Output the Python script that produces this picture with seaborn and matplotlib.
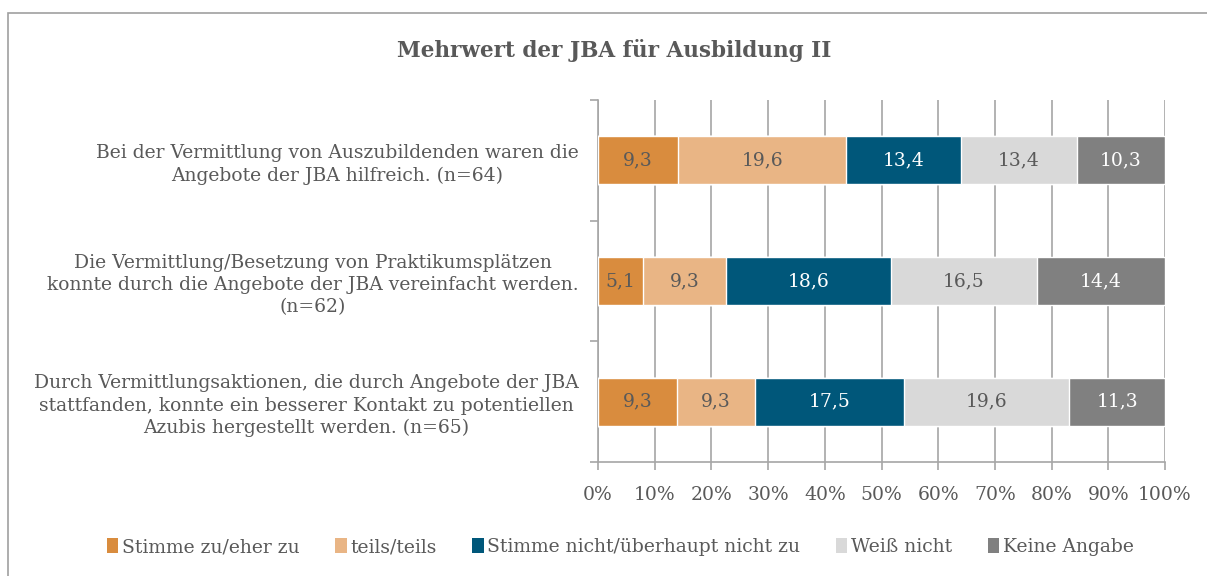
import numpy as np
import pandas as pd
import matplotlib
matplotlib.use('Agg')
import matplotlib.pyplot as plt
import seaborn as sns
from matplotlib.patches import Patch, Rectangle

# Werte aus der Grafik (Anteile je Antwortkategorie)
fragen = [
    'Bei der Vermittlung von Auszubildenden waren die\nAngebote der JBA hilfreich. (n=64)',
    'Die Vermittlung/Besetzung von Praktikumsplätzen\nkonnte durch die Angebote der JBA vereinfacht werden.\n(n=62)',
    'Durch Vermittlungsaktionen, die durch Angebote der JBA\nstattfanden, konnte ein besserer Kontakt zu potentiellen\nAzubis hergestellt werden. (n=65)',
]
kategorien = ['Stimme zu/eher zu', 'teils/teils', 'Stimme nicht/überhaupt nicht zu', 'Weiß nicht', 'Keine Angabe']
stimme_zu = [9.3, 5.1, 9.3]
teils = [19.6, 9.3, 9.3]
stimme_nicht = [13.4, 18.6, 17.5]
weiss_nicht = [13.4, 16.5, 19.6]
keine_angabe = [10.3, 14.4, 11.3]
tick_labels = ['0%', '10%', '20%', '30%', '40%', '50%', '60%', '70%', '80%', '90%', '100%']

farben = ['#D98C3E', '#E9B585', '#00577A', '#D9D9D9', '#808080']
textfarben = ['#595959', '#595959', 'white', '#595959', 'white']

df = pd.DataFrame({'frage': fragen, kategorien[0]: stimme_zu, kategorien[1]: teils,
                   kategorien[2]: stimme_nicht, kategorien[3]: weiss_nicht, kategorien[4]: keine_angabe})
werte = df[kategorien]
anteile = werte.div(werte.sum(axis=1), axis=0) * 100  # auf 100% normiert
kumuliert = anteile.cumsum(axis=1)

sns.set_style('white')
plt.rcParams['font.family'] = ['DejaVu Serif']
grau = '#595959'
linie = '#a6a6a6'
fs = 13.5

fig = plt.figure(figsize=(12.07, 5.76), dpi=100)
ax = fig.add_axes([598 / 1207, 1 - 462 / 576, 567 / 1207, 362 / 576])

# gestapelte Balken: von hinten nach vorne zeichnen
for i in reversed(range(len(kategorien))):
    sns.barplot(x=kumuliert[kategorien[i]], y=df['frage'], orient='h', color=farben[i],
                width=0.4, ax=ax, saturation=1, zorder=3)

for i, k in enumerate(kategorien):
    for j in range(len(fragen)):
        mitte = kumuliert[k].iloc[j] - anteile[k].iloc[j] / 2
        ax.text(mitte, j, f'{werte[k].iloc[j]:.1f}'.replace('.', ','), ha='center', va='center',
                color=textfarben[i], fontsize=fs, zorder=4)

ax.set_xlim(0, 100)
ax.set_ylim(2.5, -0.5)
ax.set_xticks(np.arange(0, 101, 10))
ax.set_xticklabels(tick_labels, fontsize=fs, color=grau)
ax.set_yticks(range(len(fragen)))
ax.set_yticklabels(fragen, fontsize=fs, color=grau, multialignment='center', linespacing=1.3)
ax.set_yticks([-0.5, 0.5, 1.5, 2.5], minor=True)
ax.tick_params(axis='y', which='major', left=False, length=0, pad=14)
ax.tick_params(axis='y', which='minor', left=True, length=6, color=linie, width=1.2)
ax.tick_params(axis='x', which='major', bottom=True, length=6, color=linie, width=1.2, pad=11)
ax.set_xlabel('')
ax.set_ylabel('')
ax.xaxis.grid(True, color=linie, lw=1.2, zorder=0)
ax.set_axisbelow(True)
for s in ['top', 'right']:
    ax.spines[s].set_visible(False)
for s in ['left', 'bottom']:
    ax.spines[s].set_color(linie)
    ax.spines[s].set_linewidth(1.2)

fig.text(614 / 1207, 1 - 50 / 576, 'Mehrwert der JBA für Ausbildung II', ha='center', va='center',
         fontsize=15.5, fontweight='bold', color=grau)

handles = [Patch(facecolor=c, edgecolor='none') for c in farben]
fig.legend(handles, kategorien, loc='center', bbox_to_anchor=(0.514, 1 - 547 / 576), ncol=5,
           frameon=False, fontsize=fs, handlelength=0.6, handleheight=0.8, handletextpad=0.2,
           columnspacing=1.9, labelcolor=grau)

fig.patches.append(Rectangle((8 / 1207, -0.1), 1.2, 1 - 13 / 576 + 0.1, transform=fig.transFigure,
                             fill=False, edgecolor='#a0a0a0', lw=1.2, clip_on=False))

fig.savefig('out.png', dpi=100)
